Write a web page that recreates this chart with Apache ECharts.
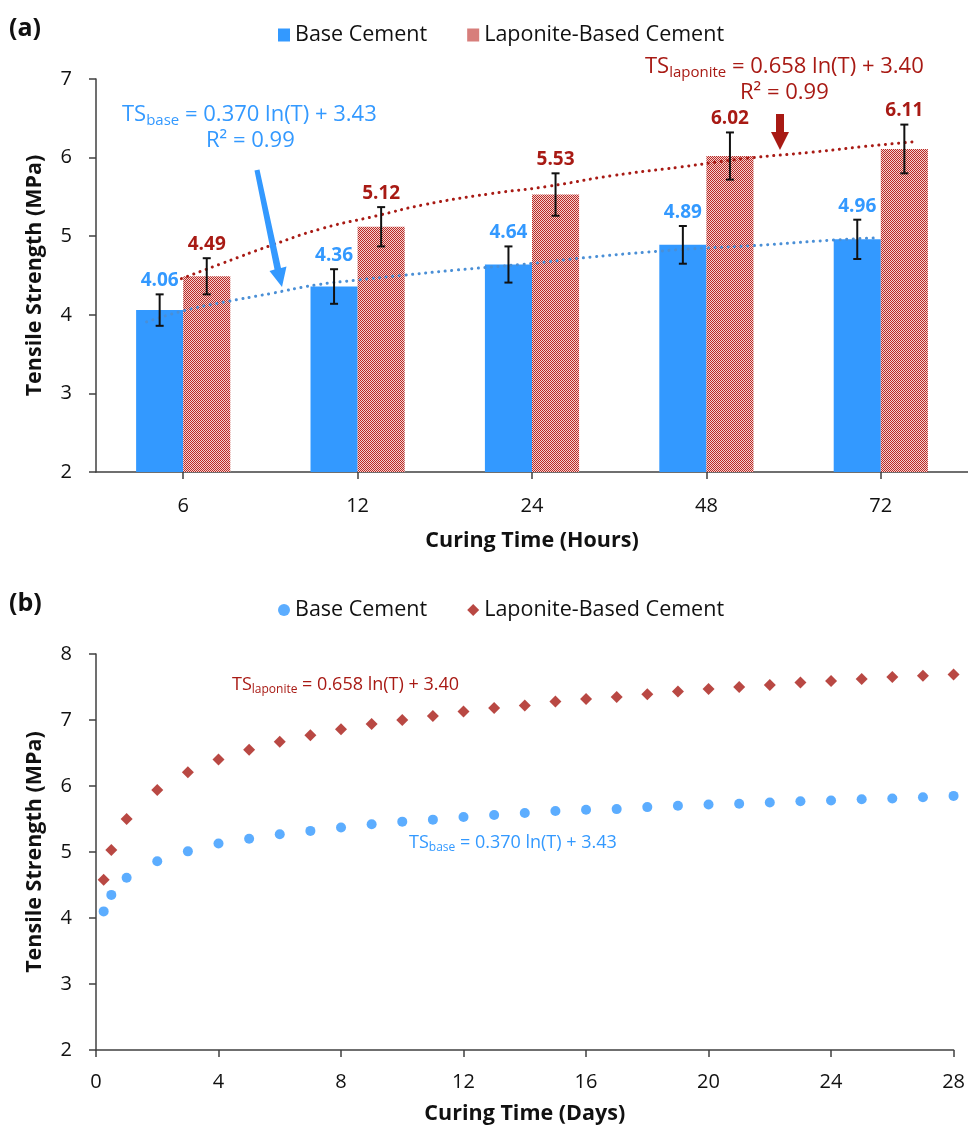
<!DOCTYPE html>
<html><head><meta charset="utf-8">
<script src="https://cdn.jsdelivr.net/npm/echarts@6/dist/echarts.min.js"></script>
<style>html,body{margin:0;padding:0;background:#fff}#c{width:968px;height:1129px}</style>
</head><body><div id="c"></div>
<script>
// ---------- Data: chart (a) ----------
const categories = ['6', '12', '24', '48', '72'];
const baseValues = [4.06, 4.36, 4.64, 4.89, 4.96];
const laponiteValues = [4.49, 5.12, 5.53, 6.02, 6.11];
const baseErrors = [0.20, 0.22, 0.23, 0.24, 0.25];
const laponiteErrors = [0.23, 0.25, 0.27, 0.30, 0.31];
// trend lines, x in category units (0..5 across the plot)
const baseTrendX = [0.29, 0.50, 0.73, 1.00, 1.26, 1.49, 1.75, 2.07, 2.53, 2.77, 3.23, 3.50, 3.77, 4.22, 4.49];
const baseTrendY = [3.91, 4.05, 4.16, 4.27, 4.38, 4.44, 4.50, 4.57, 4.66, 4.72, 4.81, 4.85, 4.88, 4.95, 4.98];
const lapTrendX = [0.49, 0.73, 1.00, 1.30, 1.61, 1.88, 2.26, 2.58, 2.96, 3.35, 3.73, 4.11, 4.40, 4.68];
const lapTrendY = [4.46, 4.66, 4.88, 5.10, 5.26, 5.40, 5.54, 5.63, 5.77, 5.88, 5.99, 6.07, 6.14, 6.20];
// ---------- Data: chart (b) ----------
const days = [0.25, 0.5, 1, 2, 3, 4, 5, 6, 7, 8, 9, 10, 11, 12, 13, 14, 15, 16, 17, 18, 19, 20, 21, 22, 23, 24, 25, 26, 27, 28];
const baseDaily = [4.10, 4.35, 4.61, 4.86, 5.01, 5.13, 5.20, 5.27, 5.32, 5.37, 5.42, 5.46, 5.49, 5.53, 5.56, 5.59, 5.62, 5.64, 5.65, 5.68, 5.70, 5.72, 5.73, 5.75, 5.77, 5.78, 5.80, 5.81, 5.83, 5.85];
const laponiteDaily = [4.58, 5.03, 5.50, 5.94, 6.21, 6.40, 6.55, 6.67, 6.77, 6.86, 6.94, 7.00, 7.06, 7.13, 7.18, 7.22, 7.28, 7.32, 7.35, 7.39, 7.43, 7.47, 7.50, 7.53, 7.57, 7.59, 7.62, 7.65, 7.67, 7.69];

const FONT = "'Open Sans', sans-serif";
const BLUE = '#3399ff';
const RED = '#a81a14';
const TREND_BLUE = '#4a8fd6';
const AXIS = '#404040';

// checkered red pattern
const pc = document.createElement('canvas');
pc.width = 2; pc.height = 2;
const pctx = pc.getContext('2d');
pctx.fillStyle = '#f3d2d2'; pctx.fillRect(0, 0, 2, 2);
pctx.fillStyle = '#bb2a24'; pctx.fillRect(0, 0, 1, 1); pctx.fillRect(1, 1, 1, 1);
const PATTERN = { image: pc, repeat: 'repeat' };

const zip = (a, b) => a.map((v, i) => [v, b[i]]);

function errorSeries(name, vals, errs, sign, color) {
  return {
    type: 'custom', name: name, xAxisIndex: 0, yAxisIndex: 0, z: 5,
    data: vals.map((v, i) => [i, v, errs[i]]),
    renderItem: function (params, api) {
      const i = api.value(0), v = api.value(1), e = api.value(2);
      const band = api.size([1, 0])[0];
      const c = api.coord([i, v]);
      const x = c[0] + sign * band * 0.135;
      const top = api.coord([i, v + e])[1];
      const bot = api.coord([i, v - e])[1];
      const cap = 4;
      const ls = { stroke: '#111', lineWidth: 2 };
      return { type: 'group', children: [
        { type: 'line', shape: { x1: x, y1: top, x2: x, y2: bot }, style: ls },
        { type: 'line', shape: { x1: x - cap, y1: top, x2: x + cap, y2: top }, style: ls },
        { type: 'line', shape: { x1: x - cap, y1: bot, x2: x + cap, y2: bot }, style: ls },
        { type: 'text', x: x, y: top - 4, style: { text: v.toFixed(2), fill: color, font: 'bold 19px ' + FONT, textAlign: 'center', textVerticalAlign: 'bottom' } }
      ] };
    }
  };
}

const axisLineStyle = { show: true, lineStyle: { color: AXIS, width: 1.5 } };
const tickStyle = { show: true, length: 7, lineStyle: { color: AXIS, width: 1.5 } };
const labelStyle = { color: '#111', fontSize: 20, fontFamily: FONT };
const nameStyle = { color: '#111', fontSize: 21.5, fontWeight: 'bold', fontFamily: FONT };

function formula(left, top, color, main, sub, rest, size) {
  return { type: 'text', left: left, top: top, z: 20, style: {
    text: '{m|' + main + '}{s|' + sub + '}{m|' + rest + '}',
    rich: {
      m: { fontSize: size, fontFamily: FONT, fill: color, color: color },
      s: { fontSize: Math.round(size * 0.68), fontFamily: FONT, fill: color, color: color, padding: [Math.round(size * 0.5), 0, 0, 0] }
    }
  } };
}

const option = {
  animation: false,
  backgroundColor: '#fff',
  textStyle: { fontFamily: FONT },
  grid: [
    { left: 96, top: 79, width: 872, height: 393 },
    { left: 96, top: 654, width: 859, height: 396 }
  ],
  legend: [
    { left: 273, top: 19, itemWidth: 12, itemHeight: 13, itemGap: 40, icon: 'rect',
      textStyle: { fontSize: 21.5, color: '#111', fontFamily: FONT },
      data: ['Base Cement', 'Laponite-Based Cement'] },
    { left: 273, top: 594, itemWidth: 12, itemHeight: 12, itemGap: 40,
      textStyle: { fontSize: 21.5, color: '#111', fontFamily: FONT },
      formatter: n => n.replace(' (b)', ''),
      data: [{ name: 'Base Cement (b)', icon: 'circle' }, { name: 'Laponite-Based Cement (b)', icon: 'diamond' }] }
  ],
  xAxis: [
    { type: 'category', gridIndex: 0, data: categories,
      axisLine: axisLineStyle, axisTick: Object.assign({ alignWithLabel: true }, tickStyle),
      axisLabel: Object.assign({ margin: 24 }, labelStyle),
      name: 'Curing Time (Hours)', nameLocation: 'middle', nameGap: 58, nameTextStyle: nameStyle },
    { type: 'value', gridIndex: 0, min: 0, max: 5, show: false },
    { type: 'value', gridIndex: 1, min: 0, max: 28, interval: 4,
      axisLine: axisLineStyle, axisTick: tickStyle, splitLine: { show: false },
      axisLabel: Object.assign({ margin: 22 }, labelStyle),
      name: 'Curing Time (Days)', nameLocation: 'middle', nameGap: 53, nameTextStyle: nameStyle }
  ],
  yAxis: [
    { type: 'value', gridIndex: 0, min: 2, max: 7, interval: 1,
      axisLine: axisLineStyle, axisTick: tickStyle, splitLine: { show: false },
      axisLabel: Object.assign({ margin: 24 }, labelStyle),
      name: 'Tensile Strength (MPa)', nameLocation: 'middle', nameGap: 50, nameTextStyle: nameStyle },
    { type: 'value', gridIndex: 1, min: 2, max: 8, interval: 1,
      axisLine: axisLineStyle, axisTick: tickStyle, splitLine: { show: false },
      axisLabel: Object.assign({ margin: 24 }, labelStyle),
      name: 'Tensile Strength (MPa)', nameLocation: 'middle', nameGap: 50, nameTextStyle: nameStyle }
  ],
  series: [
    { type: 'bar', name: 'Base Cement', xAxisIndex: 0, yAxisIndex: 0, data: baseValues,
      barWidth: '27%', barGap: '0%', itemStyle: { color: BLUE } },
    { type: 'bar', name: 'Laponite-Based Cement', xAxisIndex: 0, yAxisIndex: 0, data: laponiteValues,
      barWidth: '27%', barGap: '0%', itemStyle: { color: PATTERN } },
    errorSeries('errBase', baseValues, baseErrors, -1, BLUE),
    errorSeries('errLap', laponiteValues, laponiteErrors, 1, RED),
    { type: 'line', name: 'trendBase', xAxisIndex: 1, yAxisIndex: 0, data: zip(baseTrendX, baseTrendY),
      smooth: true, symbol: 'none', z: 4,
      lineStyle: { color: TREND_BLUE, width: 3, type: [0.1, 6.5], cap: 'round' } },
    { type: 'line', name: 'trendLap', xAxisIndex: 1, yAxisIndex: 0, data: zip(lapTrendX, lapTrendY),
      smooth: true, symbol: 'none', z: 4,
      lineStyle: { color: RED, width: 3, type: [0.1, 6.5], cap: 'round' } },
    { type: 'scatter', name: 'Base Cement (b)', xAxisIndex: 2, yAxisIndex: 1, data: zip(days, baseDaily),
      symbol: 'circle', symbolSize: 10, itemStyle: { color: BLUE } },
    { type: 'scatter', name: 'Laponite-Based Cement (b)', xAxisIndex: 2, yAxisIndex: 1, data: zip(days, laponiteDaily),
      symbol: 'diamond', symbolSize: 12, itemStyle: { color: RED } }
  ],
  graphic: [
    { type: 'text', left: 9, top: 16, style: { text: '(a)', font: 'bold 25px ' + FONT, fill: '#111' } },
    { type: 'text', left: 9, top: 591, style: { text: '(b)', font: 'bold 25px ' + FONT, fill: '#111' } },
    formula(122, 104, BLUE, 'TS', 'base', ' = 0.370 ln(T) + 3.43', 22),
    { type: 'text', left: 206, top: 130, style: { text: 'R² = 0.99', font: '22px ' + FONT, fill: BLUE } },
    formula(645, 56, RED, 'TS', 'laponite', ' = 0.658 ln(T) + 3.40', 22),
    { type: 'text', left: 740, top: 82, style: { text: 'R² = 0.99', font: '22px ' + FONT, fill: RED } },
    formula(232, 676, RED, 'TS', 'laponite', ' = 0.658 ln(T) + 3.40', 18),
    formula(409, 834, BLUE, 'TS', 'base', ' = 0.370 ln(T) + 3.43', 18),
    // blue arrow
    { type: 'polygon', z: 20, shape: { points: [[254.5, 170.5], [274.5, 269.5], [269.5, 271], [282, 287], [286.5, 266.5], [281, 268], [259.5, 169.5]] },
      style: { fill: BLUE } },
    // red arrow
    { type: 'polygon', z: 20, shape: { points: [[776, 114], [784, 114], [784, 132], [789, 132], [780, 150], [771, 132], [776, 132]] },
      style: { fill: RED } }
  ]
};

const chart = echarts.init(document.getElementById('c'), null, { renderer: 'canvas' });
chart.setOption(option);
</script>
</body></html>
